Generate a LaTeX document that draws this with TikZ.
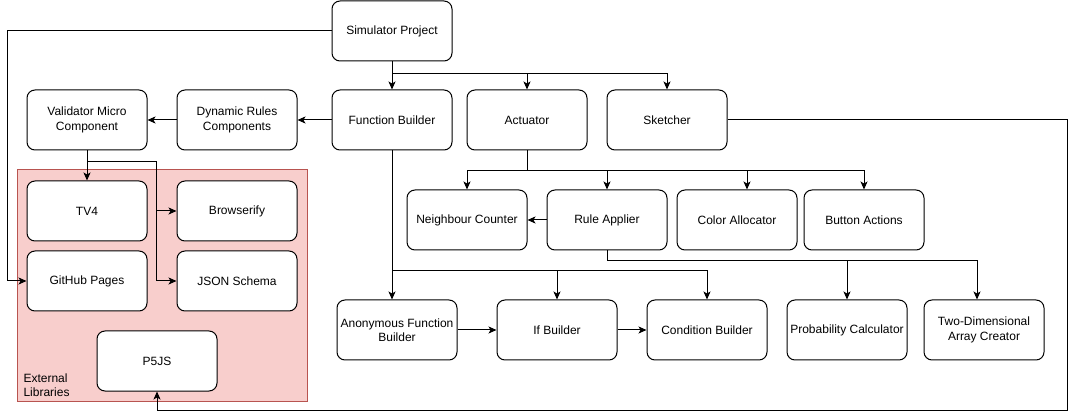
\documentclass[tikz,border=0pt]{standalone}
\usepackage{fontspec}
\setmainfont{Liberation Sans}
\usetikzlibrary{arrows.meta}
\definecolor{libfill}{HTML}{F8CECC}
\definecolor{libline}{HTML}{B85450}

\begin{document}
\begin{tikzpicture}[x=1pt,y=-1pt,line width=1pt,
        box/.style={draw, fill = white, rounded corners=8pt, minimum width=120pt, minimum height=60pt,
            align=center, inner sep=1pt, font=\fontsize{12}{14.5}\selectfont},
        arr/.style={-{Stealth[length=8pt,width=7pt,inset=2pt]}}]
            \useasboundingbox (0,0) rectangle (1076,419);
            \draw [fill = libfill, draw = libline] (17,170) rectangle (307,401);
            \node [anchor=west, align=left, inner sep=1pt, font=\fontsize{12}{14.5}\selectfont] (extlib) at (22,385) {External\\Libraries};
            \node [box] (sim) at (392,31) {Simulator Project};
            \node [box] (val) at (87,120) {Validator Micro\\Component};
            \node [box] (dyn) at (237,120) {Dynamic Rules\\Components};
            \node [box] (fb) at (392,120) {Function Builder};
            \node [box] (act) at (527,120) {Actuator};
            \node [box] (sk) at (667,120) {Sketcher};
            \node [box] (nc) at (467,220) {Neighbour Counter};
            \node [box] (ra) at (607,220) {Rule Applier};
            \node [box] (ca) at (737,220) {Color Allocator};
            \node [box] (ba) at (864,220) {Button Actions};
            \node [box] (anon) at (397,330) {Anonymous Function\\Builder};
            \node [box] (ifb) at (557,330) {If Builder};
            \node [box] (cb) at (707,330) {Condition Builder};
            \node [box] (pc) at (847,330) {Probability Calculator};
            \node [box] (td) at (984,330) {Two-Dimensional\\Array Creator};
            \node [box] (tv) at (87,211) {TV4};
            \node [box] (brow) at (237,211) {Browserify};
            \node [box] (gh) at (87,281) {GitHub Pages};
            \node [box] (json) at (237,281) {JSON Schema};
            \node [box] (p5) at (157,361) {P5JS};
            \draw [arr] (sim) -- (fb);
            \draw [arr] (sim.south) -- ++(0,12) -| (act.north);
            \draw [arr] (sim.south) -- ++(0,12) -| (sk.north);
            \draw [arr] (sim.west) -- (7,31) |- (gh.west);
            \draw [arr] (fb) -- (dyn);
            \draw [arr] (dyn) -- (val);
            \draw [arr] (val) -- (tv);
            \draw [arr] (val.south) -- ++(0,11) -| ([xshift=-20pt]brow.west) -- (brow.west);
            \draw [arr] (val.south) -- ++(0,11) -| ([xshift=-20pt]json.west) -- (json.west);
            \draw [arr] (act.south) -- ++(0,20) -| (nc.north);
            \draw [arr] (act.south) -- ++(0,20) -| (ra.north);
            \draw [arr] (act.south) -- ++(0,20) -| ([xshift=10pt]ca.north);
            \draw [arr] (act.south) -- ++(0,20) -| (ba.north);
            \draw [arr] (ra) -- (nc);
            \draw [arr] (fb.south) -- (fb.south |- anon.north);
            \draw [arr] (fb.south) -- ++(0,120) -| (ifb.north);
            \draw [arr] (fb.south) -- ++(0,120) -| (cb.north);
            \draw [arr] (ra.south) -- ++(0,10) -| (pc.north);
            \draw [arr] (ra.south) -- ++(0,10) -| ([xshift=-7pt]td.north);
            \draw [arr] (anon) -- (ifb);
            \draw [arr] (ifb) -- (cb);
            \draw [arr] (sk.east) -| (1067,410) -| (p5.south);
        \end{tikzpicture}
\end{document}
